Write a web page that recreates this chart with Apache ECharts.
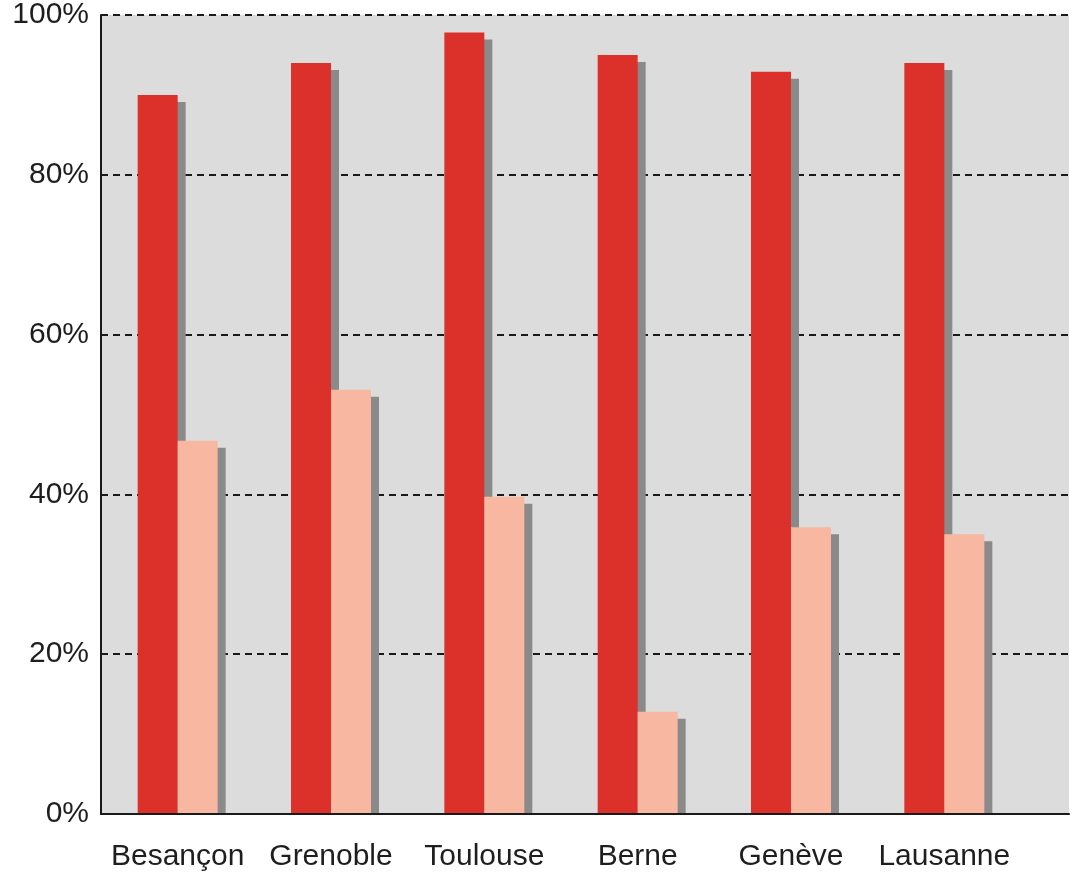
<!DOCTYPE html>
<html>
<head>
<meta charset="utf-8">
<script src="https://cdn.jsdelivr.net/npm/echarts@6/dist/echarts.min.js"></script>
<style>html,body{margin:0;padding:0;background:#fff;}#c{width:1080px;height:881px;}</style>
</head>
<body>
<div id="c"></div>
<script>
const categories = ['Besançon', 'Grenoble', 'Toulouse', 'Berne', 'Genève', 'Lausanne'];
const seriesA = [90.0, 94.0, 97.8, 95.0, 92.9, 94.0];
const seriesB = [46.7, 53.1, 39.7, 12.8, 35.9, 35.0];
const yTicks = [0, 20, 40, 60, 80, 100];

const BAR_W = 40;
const shadowData = [];
categories.forEach((c, i) => {
  shadowData.push([i, seriesA[i], 0]);
  shadowData.push([i, seriesB[i], 1]);
});

const chart = echarts.init(document.getElementById('c'));
const font = '"Liberation Sans", Arial, sans-serif';
chart.setOption({
  animation: false,
  backgroundColor: '#ffffff',
  grid: [
    { left: 101, right: 11, top: 15, bottom: 67, show: true, backgroundColor: '#dcdcdc', borderWidth: 0 },
    { left: 101, right: 59, top: 15, bottom: 67 }
  ],
  xAxis: [
    { gridIndex: 0, type: 'category', data: [''], axisTick: { show: false }, axisLabel: { show: false },
      axisLine: { show: true, lineStyle: { color: '#1a1a1a', width: 2 } }, z: 5 },
    { gridIndex: 1, type: 'category', data: categories, axisTick: { show: false },
      axisLine: { show: false },
      axisLabel: { fontSize: 30, fontFamily: font, color: '#1e1e1e', margin: 28, interval: 0 } }
  ],
  yAxis: [
    { gridIndex: 0, type: 'value', min: 0, max: 100, interval: 20,
      axisLine: { show: true, lineStyle: { color: '#1a1a1a', width: 2 } },
      axisTick: { show: false },
      axisLabel: { formatter: v => yTicks.includes(v) ? v + '%' : '', fontSize: 30, fontFamily: font, color: '#1e1e1e', margin: 12, padding: [7, 0, 0, 0] },
      splitLine: { show: true, lineStyle: { color: '#1a1a1a', width: 2, type: [7, 5] } } },
    { gridIndex: 1, type: 'value', min: 0, max: 100, interval: 20, show: false, splitLine: { show: false } }
  ],
  series: [
    {
      type: 'custom', xAxisIndex: 1, yAxisIndex: 1, z: 1, data: shadowData,
      renderItem: function (params, api) {
        const ci = api.value(0), v = api.value(1), which = api.value(2);
        const top = api.coord([ci, v]);
        const base = api.coord([ci, 0]);
        const x0 = top[0] + (which === 0 ? -BAR_W : 0) + 8;
        return { type: 'rect', shape: { x: x0, y: top[1] + 7, width: BAR_W, height: base[1] - top[1] - 7 },
          style: { fill: '#8a8a8a' } };
      }
    },
    { type: 'bar', xAxisIndex: 1, yAxisIndex: 1, data: seriesA, barWidth: BAR_W, barGap: '0%', z: 3,
      itemStyle: { color: '#dc302b' } },
    { type: 'bar', xAxisIndex: 1, yAxisIndex: 1, data: seriesB, barWidth: BAR_W, barGap: '0%', z: 3,
      itemStyle: { color: '#f7b7a0' } }
  ]
});
</script>
</body>
</html>
